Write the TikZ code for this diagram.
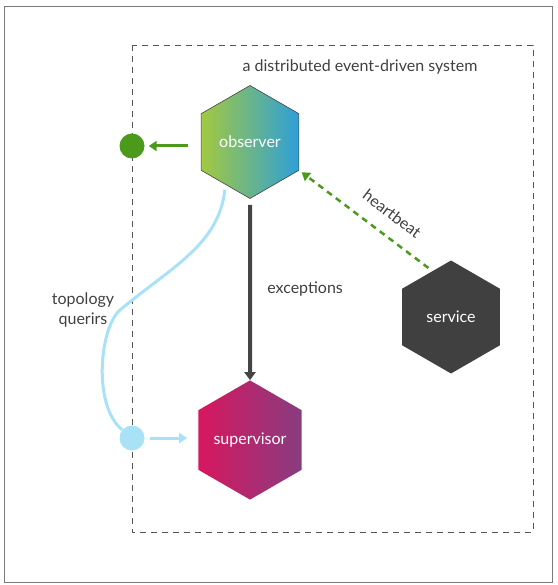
\documentclass[tikz,border=0pt]{standalone}
\usepackage{fontspec}
\setmainfont{Lato}
\usepackage{tikz}
\usetikzlibrary{shapes.geometric,arrows.meta}
\definecolor{EDFrame}{HTML}{7A7A7A}
\definecolor{EDBox}{HTML}{555555}
\definecolor{EDText}{HTML}{404040}
\definecolor{EDGreen}{HTML}{4B9A1B}
\definecolor{EDQuery}{HTML}{A9E2F6}
\definecolor{EDArrow}{HTML}{444444}
\definecolor{ObsLeft}{HTML}{A3C93F}
\definecolor{ObsRight}{HTML}{2E9FD9}
\definecolor{SupLeft}{HTML}{D7175F}
\definecolor{SupRight}{HTML}{883C80}
\definecolor{SrvGray}{HTML}{404040}

\begin{document}
\begin{tikzpicture}[x=1pt,y=-1pt,
  hexnode/.style={regular polygon,regular polygon sides=6,shape border rotate=30,
    minimum size=113pt,inner sep=0pt,text=white,font=\fontsize{16}{19}\selectfont},
  dotnode/.style={circle,minimum size=25pt,inner sep=0pt},
  labeltext/.style={text=EDText,font=\fontsize{16}{20}\selectfont},
  greenarrow/.style={EDGreen,line width=3pt,-{Triangle[length=8pt,width=10pt]}},
  queryarrow/.style={EDQuery,line width=3pt,-{Triangle[length=8pt,width=10pt]}},
  exarrow/.style={EDArrow,line width=4pt,-{Triangle[length=8pt,width=11pt]}},
  hbarrow/.style={EDGreen,line width=2.5pt,dash pattern=on 6pt off 5pt,-{Triangle[length=8pt,width=10pt]}}]
\path[use as bounding box] (0,0) rectangle (557,585);
\draw[EDFrame,line width=1pt] (4,7) rectangle (552,582);
\draw[EDBox,line width=.8pt,dash pattern=on 6pt off 5pt] (132,45) rectangle (533,532);
\node[labeltext] (title) at (360,67) {a distributed event-driven system};
\node[hexnode,left color=ObsLeft,right color=ObsRight,draw=EDArrow,line width=.6pt] (observer) at (250,142) {observer};
\node[hexnode,left color=SupLeft,right color=SupRight] (supervisor) at (250,440) {supervisor};
\node[hexnode,fill=SrvGray] (service) at (451,317) {service};
\node[dotnode,fill=EDGreen] (gdot) at (132,146) {};
\node[dotnode,fill=EDQuery] (bdot) at (132,438) {};
\node[labeltext,align=center] (topo) at (83,310) {topology\\querirs};
\draw[greenarrow,shorten <=13pt,shorten >=4pt] (observer.west |- gdot) -- (gdot);
\draw[queryarrow,shorten <=5pt,shorten >=11pt] (bdot) -- (bdot -| supervisor.west);
\draw[exarrow,shorten <=6pt] (observer.south) -- (supervisor.north)
  node[labeltext,midway,right=12pt] {exceptions};
\draw[hbarrow,shorten <=5pt,shorten >=3pt] (service.112) -- (observer.-30)
  node[labeltext,pos=.4,sloped,above=11pt] {heartbeat};
\draw[EDQuery,line width=3pt,shorten <=5pt] (observer.240) .. controls (219,245) and (170,268) .. (120,310)
  .. controls (100,327) and (92,405) .. (bdot);
\end{tikzpicture}
\end{document}
